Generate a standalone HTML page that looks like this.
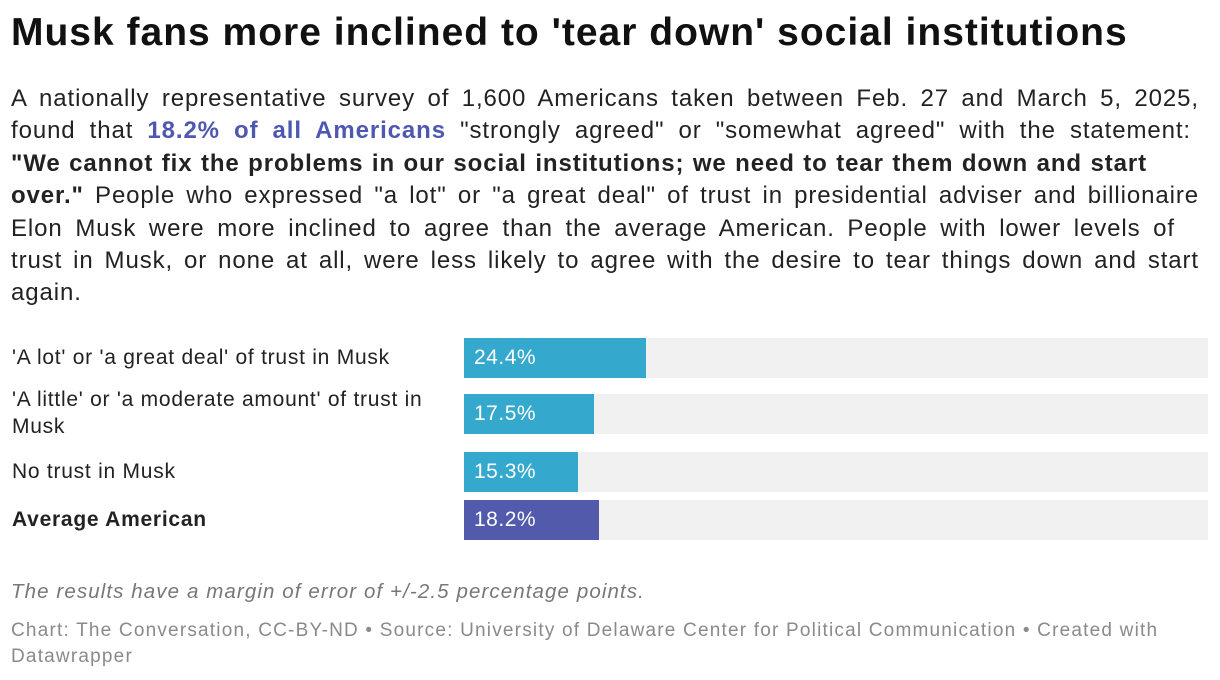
<!DOCTYPE html>
<html><head><meta charset="utf-8"><style>
body{margin:0;width:1220px;height:680px;background:#fff;font-family:"Liberation Sans",sans-serif;color:#1d1d1d;position:relative;overflow:hidden}
.abs{position:absolute}
h1{position:absolute;left:11px;top:11px;margin:0;font-size:39px;font-weight:bold;color:#111;letter-spacing:1px;white-space:nowrap}
#desc{left:11px;top:83px;font-size:24px;line-height:32.4px;color:#222;letter-spacing:0.9px}
#desc .ln{white-space:nowrap;text-align:justify;text-align-last:justify;width:1188px}
#desc .ln.last{text-align-last:left}
.hl{color:#4e58b0;font-weight:bold}
.lab{position:absolute;left:12px;font-size:21px;line-height:27px;color:#222;white-space:nowrap;letter-spacing:0.75px}
.track{position:absolute;left:464px;width:744px;height:40px;background:#f1f1f1}
.bar{position:absolute;left:0;top:0;height:40px}
.val{position:absolute;left:10px;top:0;line-height:40px;font-size:21px;color:#fff;letter-spacing:0.5px}
#note{left:11px;top:580px;font-size:20.5px;font-style:italic;color:#777;letter-spacing:1.1px;white-space:nowrap}
#src{left:11px;top:618px;font-size:19px;line-height:26px;color:#8a8a8a;letter-spacing:1.2px;white-space:nowrap}
</style></head><body>
<h1>Musk fans more inclined to 'tear down' social institutions</h1>
<div id="desc" class="abs">
<div class="ln">A nationally representative survey of 1,600 Americans taken between Feb. 27 and March 5, 2025,</div>
<div class="ln" style="width:1180px">found that <span class="hl">18.2% of all Americans</span> "strongly agreed" or "somewhat agreed" with the statement:</div>
<div class="ln" style="width:1136px"><b>"We cannot fix the problems in our social institutions; we need to tear them down and start</b></div>
<div class="ln"><b>over."</b> People who expressed "a lot" or "a great deal" of trust in presidential adviser and billionaire</div>
<div class="ln" style="width:1164px">Elon Musk were more inclined to agree than the average American. People with lower levels of</div>
<div class="ln">trust in Musk, or none at all, were less likely to agree with the desire to tear things down and start</div>
<div class="ln last">again.</div>
</div>
<div id="chart"></div>
<div id="note" class="abs">The results have a margin of error of +/-2.5 percentage points.</div>
<div id="src" class="abs">Chart: The Conversation, CC-BY-ND • Source: University of Delaware Center for Political Communication • Created with<br>Datawrapper</div>
<script>
const categories=["'A lot' or 'a great deal' of trust in Musk","'A little' or 'a moderate amount' of trust in\nMusk","No trust in Musk","Average American"];
const values=[24.4,17.5,15.3,18.2];
const highlight=[false,false,false,true];
const rowTops=[338,394,452,500];
const scaleMax=100, trackW=744;
function x(v){return v/scaleMax*trackW;}
const chart=document.getElementById('chart');
categories.forEach((c,i)=>{
  const top=rowTops[i];
  const lab=document.createElement('div');
  lab.className='lab';
  
  
  lab.style.whiteSpace='pre';
  lab.textContent=c;
  lab.style.top=(i==1?top-8:top+6)+'px';
  if(highlight[i])lab.style.fontWeight='bold';
  chart.appendChild(lab);
  const tr=document.createElement('div');
  tr.className='track';
  
  
  tr.style.top=top+'px';
  const b=document.createElement('div');
  b.className='bar';
  
  
  b.style.width=x(values[i])+'px';
  b.style.background=highlight[i]?'#515aab':'#34a8cd';
  tr.appendChild(b);
  const v=document.createElement('div');
  v.className='val';
  
  
  v.textContent=values[i].toFixed(1)+'%';
  tr.appendChild(v);
  chart.appendChild(tr);
});
</script>
</body></html>
